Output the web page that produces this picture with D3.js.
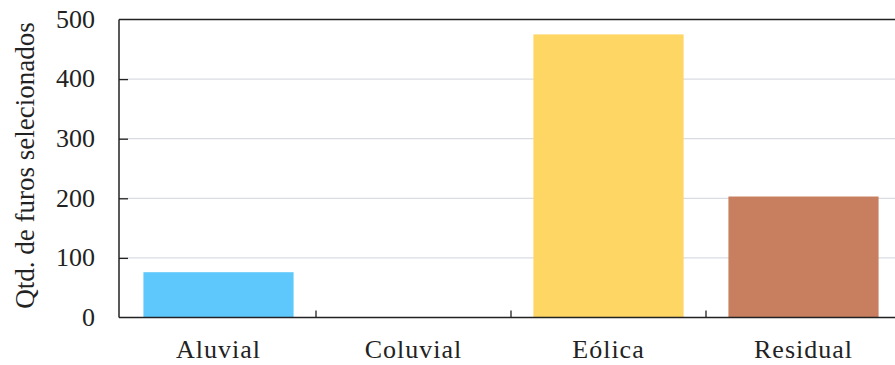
<!DOCTYPE html>
<html><head><meta charset="utf-8">
<script src="https://cdn.jsdelivr.net/npm/d3@7"></script>
<style>body{margin:0;background:#fff}svg{display:block}text{font-family:"Liberation Serif","Times New Roman",serif;fill:#222}</style>
</head><body><svg id="c" width="895" height="365"></svg>
<script>
const categories = ["Aluvial","Coluvial","Eólica","Residual"];
const values = [76, 0, 475, 203];
const colors = ["#5EC8FC","#888888","#FDD663","#C77F5F"];
const yTicks = [0,100,200,300,400,500];
const yTitle = "Qtd. de furos selecionados";

(function(){
const svg = d3.select("#c");
const mLeft = 119, mTop = 19.5, mBottom = 317.5, mRight = 901;
const x = d3.scaleBand().domain(categories).range([121, mRight]).paddingInner(0.23).paddingOuter(0.115);
const y = d3.scaleLinear().domain([0,500]).range([mBottom, mTop]);

// gridlines
svg.append("g").selectAll("line").data(yTicks.filter(d=>d>0&&d<500)).join("line")
  .attr("x1", mLeft).attr("x2", 895).attr("y1", d=>y(d)).attr("y2", d=>y(d))
  .attr("stroke","#d9dce3").attr("stroke-width",1.2);

// bars
svg.append("g").selectAll("rect").data(categories).join("rect")
  .attr("x", d=>x(d)).attr("width", x.bandwidth())
  .attr("y", (d,i)=>y(values[i])).attr("height",(d,i)=>mBottom-y(values[i]))
  .attr("fill",(d,i)=>colors[i]);

// top border
svg.append("line").attr("x1",mLeft).attr("x2",895).attr("y1",mTop).attr("y2",mTop).attr("stroke","#222").attr("stroke-width",1.5);

// y axis
const yAxis = d3.axisLeft(y).tickValues(yTicks).tickSize(-9).tickPadding(24).tickFormat(d3.format("d"));
const gy = svg.append("g").attr("transform",`translate(${mLeft},0)`).call(yAxis);
gy.attr("font-family",null).attr("font-size",null);
gy.select(".domain").attr("stroke","#222").attr("stroke-width",1.5).attr("d",`M0,${mTop}V${mBottom}`);
gy.selectAll(".tick line").attr("stroke","#222").attr("stroke-width",1.3).attr("opacity",d=>(d===0||d===500)?0:1);
gy.selectAll(".tick text").attr("font-size",26).attr("fill","#222").attr("dy","0.3em").attr("transform","scale(1,0.82)")
  .attr("y",0).each(function(d){ d3.select(this).attr("transform",null); });

// x axis
const step = x.step();
const bounds = categories.slice(1).map(c=>x(c)-x.paddingInner()*step/2);
const gx = svg.append("g");
gx.append("line").attr("x1",mLeft).attr("x2",895).attr("y1",mBottom).attr("y2",mBottom).attr("stroke","#222").attr("stroke-width",1.5);
gx.selectAll("line.t").data(bounds).join("line").attr("class","t")
  .attr("x1",d=>d).attr("x2",d=>d).attr("y1",mBottom).attr("y2",mBottom-7).attr("stroke","#222").attr("stroke-width",1.3);
gx.selectAll("text").data(categories).join("text")
  .attr("x",d=>x(d)+x.bandwidth()/2).attr("y",358).attr("text-anchor","middle")
  .attr("font-size",26).attr("letter-spacing",1).text(d=>d);

// y title
svg.append("text").attr("transform",`translate(34,${(mTop+mBottom)/2-3}) rotate(-90)`)
  .attr("text-anchor","middle").attr("font-size",27).text(yTitle);
})();
</script></body></html>
